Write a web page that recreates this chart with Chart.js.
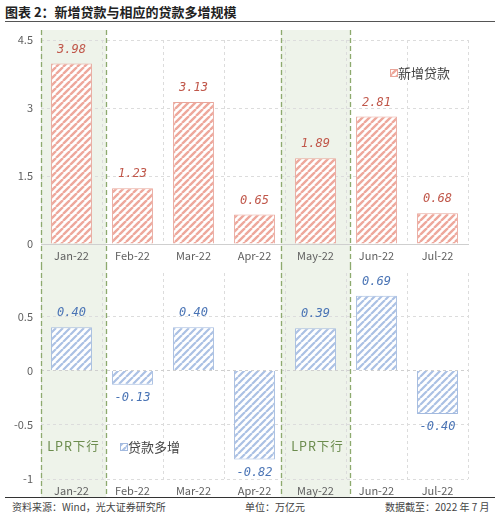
<!DOCTYPE html>
<html>
<head>
<meta charset="utf-8">
<script src="https://cdn.jsdelivr.net/npm/chart.js@4.4.1/dist/chart.umd.min.js"></script>
<style>
  body { margin: 0; background: #fff; width: 500px; height: 518px; position: relative; overflow: hidden;
         font-family: "Noto Sans CJK SC", "Noto Sans", sans-serif; }
  #title { position: absolute; left: 5px; top: 2px; font-size: 13px; font-weight: bold; color: #222; }
  #rule { position: absolute; left: 5px; right: 5px; top: 21px; border-top: 1.5px solid #555; }
  #c1 { position: absolute; left: 0; top: 25px; }
  #c2 { position: absolute; left: 0; top: 265px; }
  #footRule { position: absolute; left: 5px; right: 5px; top: 497px; border-top: 1.5px solid #333; }
  .foot { position: absolute; top: 499px; font-size: 10px; color: #444; }
</style>
</head>
<body>
<div id="title">图表 2：新增贷款与相应的贷款多增规模</div>
<div id="rule"></div>
<canvas id="c1" width="500" height="240"></canvas>
<canvas id="c2" width="500" height="232"></canvas>
<div id="footRule"></div>
<div class="foot" style="left:12px">资料来源：Wind，光大证券研究所</div>
<div class="foot" style="left:245px">单位：万亿元</div>
<div class="foot" style="left:385px">数据截至：2022 年 7 月</div>

<script>
// data
const months = ['Jan-22', 'Feb-22', 'Mar-22', 'Apr-22', 'May-22', 'Jun-22', 'Jul-22'];
const newLoans = [3.98, 1.23, 3.13, 0.65, 1.89, 2.81, 0.68];
const extraLoans = [0.40, -0.13, 0.40, -0.82, 0.39, 0.69, -0.40];
const lprCutMonths = ['Jan-22', 'May-22'];
const topTicks = [0, 1.5, 3, 4.5];
const bottomTicks = [-1, -0.5, 0, 0.5];

const GRID = '#dcdcdc';
const TICK = '#5f5f5f';
const FONT = '"Noto Sans CJK SC", "Noto Sans", sans-serif';

// diagonal stripe fill
function stripes(color, lw) {
  const s = 7, c = document.createElement('canvas');
  c.width = c.height = s;
  const g = c.getContext('2d');
  g.fillStyle = '#fff';
  g.fillRect(0, 0, s, s);
  g.strokeStyle = color;
  g.lineWidth = lw;
  g.beginPath();
  for (const o of [-s, 0, s]) { g.moveTo(o, s); g.lineTo(o + s, 0); }
  g.stroke();
  return g.createPattern(c, 'repeat');
}

// green LPR bands, dashed edges, value labels, legend
const decoPlugin = {
  id: 'deco',
  bandEdges(chart) {
    const x = chart.scales.x, area = chart.chartArea;
    const w = x.width / months.length;
    return lprCutMonths.map(m => {
      const c = x.getPixelForValue(months.indexOf(m));
      return [Math.max(area.left, c - w * 0.57), c + w * 0.57, c];
    });
  },
  beforeDraw(chart, args, o) {
    const ctx = chart.ctx;
    ctx.save();
    ctx.fillStyle = '#eef3ea';
    this.bandEdges(chart).forEach(([l, r]) => ctx.fillRect(l, o.top, r - l, chart.height - o.top));
    ctx.restore();
  },
  afterDatasetsDraw(chart, args, o) {
    const ctx = chart.ctx;
    const ds = chart.data.datasets[0];
    ctx.save();
    ctx.font = 'oblique 12px "DejaVu Sans Mono", monospace';
    ctx.fillStyle = o.labelColor;
    ctx.textAlign = 'center';
    ctx.textBaseline = 'middle';
    chart.getDatasetMeta(0).data.forEach((bar, i) => {
      const v = ds.data[i];
      ctx.fillText(v.toFixed(2), bar.x, v >= 0 ? bar.y - 14 : bar.y + 13);
    });
    ctx.restore();
  },
  afterDraw(chart, args, o) {
    const ctx = chart.ctx;
    ctx.save();
    // dashed band edges
    ctx.strokeStyle = '#8daa6e';
    ctx.lineWidth = 1.3;
    ctx.setLineDash([5, 3]);
    this.bandEdges(chart).forEach(([l, r, c]) => {
      [l, r].forEach(px => {
        ctx.beginPath();
        ctx.moveTo(Math.round(px) + 0.5, o.top);
        ctx.lineTo(Math.round(px) + 0.5, chart.height);
        ctx.stroke();
      });
      if (o.bandText) {
        ctx.font = '12.5px ' + FONT;
        ctx.letterSpacing = '1px';
        ctx.fillStyle = '#6c8c4e';
        ctx.textAlign = 'center';
        ctx.textBaseline = 'middle';
        ctx.fillText(o.bandText, c + 2, o.bandTextY);
      }
    });
    ctx.setLineDash([]);
    // legend
    const lg = o.legend;
    ctx.letterSpacing = '0px';
    ctx.fillStyle = chart.data.datasets[0].backgroundColor;
    ctx.fillRect(lg.x, lg.y - 3.5, 7, 7);
    ctx.strokeStyle = chart.data.datasets[0].borderColor;
    ctx.lineWidth = 1;
    ctx.strokeRect(lg.x + 0.5, lg.y - 3.5, 7, 7);
    ctx.font = '13px ' + FONT;
    ctx.fillStyle = '#444';
    ctx.textAlign = 'left';
    ctx.textBaseline = 'middle';
    ctx.fillText(chart.data.datasets[0].label, lg.x + 8, lg.y);
    ctx.restore();
  }
};

function makeOptions(yMin, yMax, ticks, xHeight, padTop, showXBorder, deco) {
  return {
    responsive: false,
    animation: false,
    layout: { padding: { top: padTop, right: 32, left: 0, bottom: 0 } },
    plugins: { legend: { display: false }, tooltip: { enabled: false }, deco: deco },
    scales: {
      x: {
        afterFit: s => { s.height = xHeight; s.paddingLeft = 0; s.paddingRight = 0; },
        grid: { offset: true, color: GRID, drawTicks: false },
        border: { display: showXBorder, color: '#cfcfcf', dash: [3, 3] },
        ticks: { color: TICK, font: { family: FONT, size: 11 }, padding: 5 }
      },
      y: {
        min: yMin,
        max: yMax,
        afterFit: s => { s.width = 41; s.paddingTop = 0; s.paddingBottom = 0; },
        afterBuildTicks: s => { s.ticks = ticks.map(v => ({ value: v })); },
        grid: { color: c => (c.tick && c.tick.value === 0 ? '#cfcfcf' : GRID), drawTicks: false },
        border: { display: false, dash: [3, 3] },
        ticks: { color: TICK, font: { family: FONT, size: 11 }, padding: 8, callback: v => String(v) }
      }
    }
  };
}

new Chart(document.getElementById('c1'), {
  type: 'bar',
  data: {
    labels: months,
    datasets: [{
      label: '新增贷款',
      data: newLoans,
      backgroundColor: stripes('#eea89c', 2.4),
      borderColor: '#e9a69b',
      borderWidth: 1,
      categoryPercentage: 1,
      barPercentage: 0.67
    }]
  },
  options: makeOptions(0, 4.5, topTicks, 21, 15, true,
    { top: 5, labelColor: '#c0574a', legend: { x: 390, y: 48 } }),
  plugins: [decoPlugin]
});

new Chart(document.getElementById('c2'), {
  type: 'bar',
  data: {
    labels: months,
    datasets: [{
      label: '贷款多增',
      data: extraLoans,
      backgroundColor: stripes('#abc1e4', 2.2),
      borderColor: '#a3badf',
      borderWidth: 1,
      categoryPercentage: 1,
      barPercentage: 0.67
    }]
  },
  options: makeOptions(-1, 0.9, bottomTicks, 18, 8, false,
    { top: 0, labelColor: '#4a74b5', legend: { x: 120, y: 182 }, bandText: 'LPR下行', bandTextY: 181 }),
  plugins: [decoPlugin]
});
</script>
</body>
</html>
